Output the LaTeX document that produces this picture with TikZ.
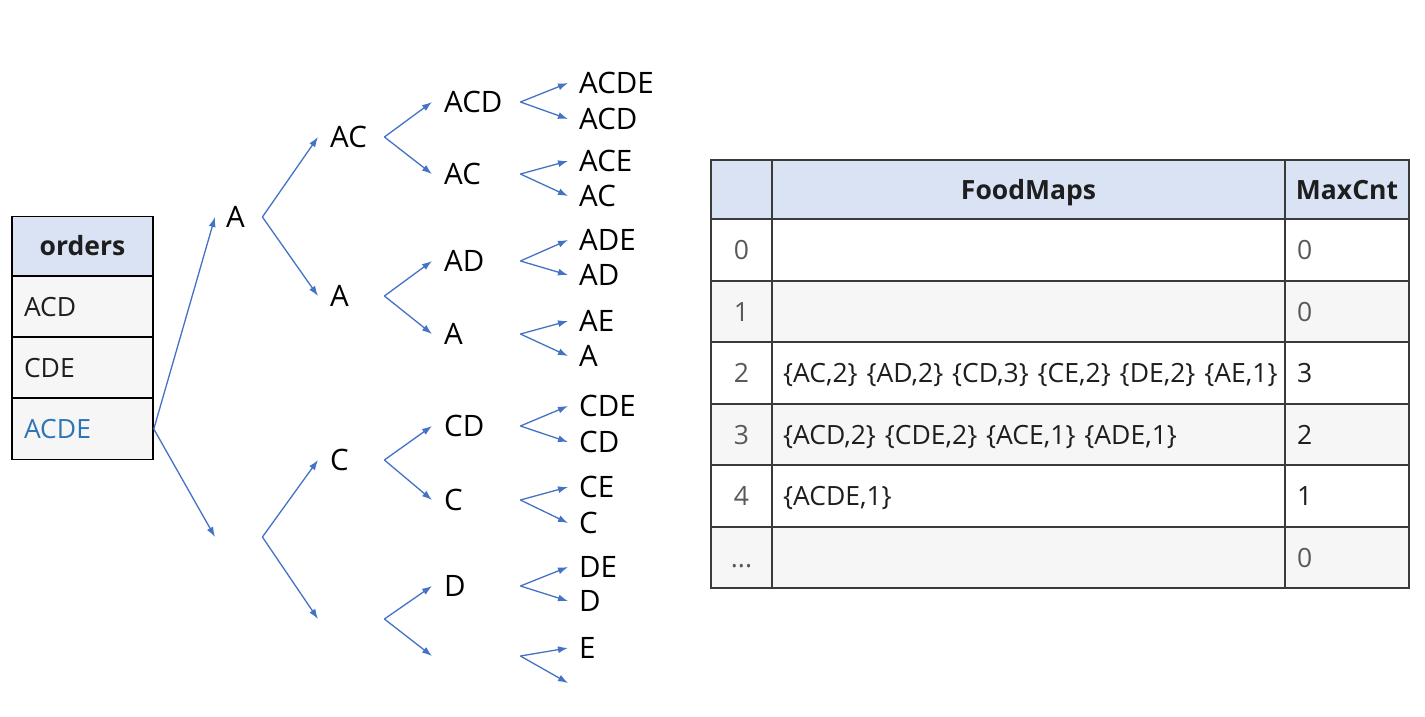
\documentclass[tikz,border=0pt]{standalone}
\usepackage{fontspec}
\setmainfont{Open Sans}
\usetikzlibrary{arrows.meta}
\definecolor{arrblue}{HTML}{4472C4}
\definecolor{hdrblue}{HTML}{DAE3F3}
\definecolor{rowgrey}{HTML}{F6F6F6}
\definecolor{linegrey}{HTML}{3A3A3A}
\definecolor{txtgrey}{HTML}{595959}
\definecolor{txtdark}{HTML}{1E1E1E}
\definecolor{acdeblue}{HTML}{2E75B6}
\begin{document}
\begin{tikzpicture}[x=1pt,y=-1pt,
  tnode/.style={anchor=west,inner ysep=0pt,align=left,text height=21pt,text depth=0pt,
    font=\fontsize{29.5}{30}\selectfont,text=black},
  lvone/.style={tnode,inner xsep=11pt,text width=25pt},
  lvtwo/.style={tnode,inner xsep=12pt,text width=42pt},
  lvthree/.style={tnode,inner xsep=12pt,text width=64pt},
  lvfour/.style={tnode,inner xsep=11pt,text width=90pt},
  arr/.style={draw=arrblue,line width=1.3pt,-{Latex[length=10pt,width=7pt]}},
  cell/.style={draw=linegrey,line width=1.6pt,inner ysep=0pt,text height=19pt,text depth=0pt,
    font=\fontsize{26.5}{28}\selectfont,text=txtdark},
  ocell/.style={cell,draw=black,minimum width=141pt,minimum height=61pt,text width=117pt,inner xsep=12pt,align=left,fill=rowgrey},
  ccol/.style={cell,minimum width=61pt,minimum height=61.4pt,align=center,text=txtgrey},
  fcol/.style={cell,minimum width=513pt,minimum height=61.4pt,text width=491pt,inner xsep=11pt,align=left},
  mcol/.style={cell,minimum width=124pt,minimum height=61.4pt,text width=100pt,inner xsep=12pt,align=left},
  hdr/.style={fill=hdrblue,minimum height=59pt,font=\fontsize{26.5}{28}\selectfont\bfseries,text=txtdark}
]
\useasboundingbox (0,0) rectangle (1425,716);
\fill[white] (0,0) rectangle (1425,716);

% orders table
\node[ocell,hdr,align=center] (ordh) at (82.5,246) {orders};
\node[ocell] (ord1) at (82.5,306.5) {ACD};
\node[ocell] (ord2) at (82.5,367.5) {CDE};
\node[ocell,text=acdeblue] (ord3) at (82.5,429) {ACDE};

% tree level 1
\node[lvone] (a1) at (215,217) {A};
\node[lvone] (b1) at (215,537) {};
% level 2
\node[lvtwo] (a2) at (318,137) {AC};
\node[lvtwo] (b2) at (318,296) {A};
\node[lvtwo] (c2) at (318,460) {C};
\node[lvtwo] (d2) at (318,619) {};
% level 3
\node[lvthree] (a3) at (432,102) {ACD};
\node[lvthree] (b3) at (432,174) {AC};
\node[lvthree] (c3) at (432,261) {AD};
\node[lvthree] (d3) at (432,334) {A};
\node[lvthree] (e3) at (432,426) {CD};
\node[lvthree] (f3) at (432,500) {C};
\node[lvthree] (g3) at (432,586) {D};
\node[lvthree] (h3) at (432,656) {};
% level 4
\node[lvfour] (a4) at (568,83) {ACDE};
\node[lvfour] (b4) at (568,119) {ACD};
\node[lvfour] (c4) at (568,161) {ACE};
\node[lvfour] (d4) at (568,196) {AC};
\node[lvfour] (e4) at (568,240) {ADE};
\node[lvfour] (f4) at (568,275) {AD};
\node[lvfour] (g4) at (568,321) {AE};
\node[lvfour] (h4) at (568,356) {A};
\node[lvfour] (i4) at (568,406) {CDE};
\node[lvfour] (j4) at (568,442) {CD};
\node[lvfour] (k4) at (568,487) {CE};
\node[lvfour] (l4) at (568,523) {C};
\node[lvfour] (m4) at (568,567) {DE};
\node[lvfour] (n4) at (568,601) {D};
\node[lvfour] (o4) at (568,648) {E};
\node[lvfour] (p4) at (568,683) {};

% tree edges
\draw[arr] (ord3.east) -- (a1.west);
\draw[arr] (ord3.east) -- (b1.west);
\foreach \p/\c in {a1/a2,a1/b2,b1/c2,b1/d2,
                   a2/a3,a2/b3,b2/c3,b2/d3,c2/e3,c2/f3,d2/g3,d2/h3,
                   a3/a4,a3/b4,b3/c4,b3/d4,c3/e4,c3/f4,d3/g4,d3/h4,
                   e3/i4,e3/j4,f3/k4,f3/l4,g3/m4,g3/n4,h3/o4,h3/p4}
  \draw[arr] (\p.east) -- (\c.west);

% FoodMaps table
\node[ccol,hdr] (h0) at (741.5,189.5) {};
\node[fcol,hdr,align=center] (h1) at (1028.5,189.5) {FoodMaps};
\node[mcol,hdr,align=center,text width=120pt,inner xsep=0pt] (h2) at (1347,189.5) {MaxCnt};

\node[ccol,fill=white] (r0c0) at (741.5,250) {0};
\node[fcol,fill=white] (r0c1) at (1028.5,250) {};
\node[mcol,fill=white,text=txtgrey] (r0c2) at (1347,250) {0};

\node[ccol,fill=rowgrey] (r1c0) at (741.5,311.5) {1};
\node[fcol,fill=rowgrey] (r1c1) at (1028.5,311.5) {};
\node[mcol,fill=rowgrey,text=txtgrey] (r1c2) at (1347,311.5) {0};

\node[ccol,fill=white] (r2c0) at (741.5,373) {2};
\node[fcol,fill=white] (r2c1) at (1028.5,373) {\makebox[0pt][l]{\{AC,2\} \{AD,2\} \{CD,3\} \{CE,2\} \{DE,2\} \{AE,1\}}};
\node[mcol,fill=white] (r2c2) at (1347,373) {3};

\node[ccol,fill=rowgrey] (r3c0) at (741.5,434.5) {3};
\node[fcol,fill=rowgrey] (r3c1) at (1028.5,434.5) {\{ACD,2\} \{CDE,2\} \{ACE,1\} \{ADE,1\}};
\node[mcol,fill=rowgrey] (r3c2) at (1347,434.5) {2};

\node[ccol,fill=white] (r4c0) at (741.5,496) {4};
\node[fcol,fill=white] (r4c1) at (1028.5,496) {\{ACDE,1\}};
\node[mcol,fill=white] (r4c2) at (1347,496) {1};

\node[ccol,fill=rowgrey] (r5c0) at (741.5,557.5) {...};
\node[fcol,fill=rowgrey] (r5c1) at (1028.5,557.5) {};
\node[mcol,fill=rowgrey,text=txtgrey] (r5c2) at (1347,557.5) {0};
\end{tikzpicture}
\end{document}
